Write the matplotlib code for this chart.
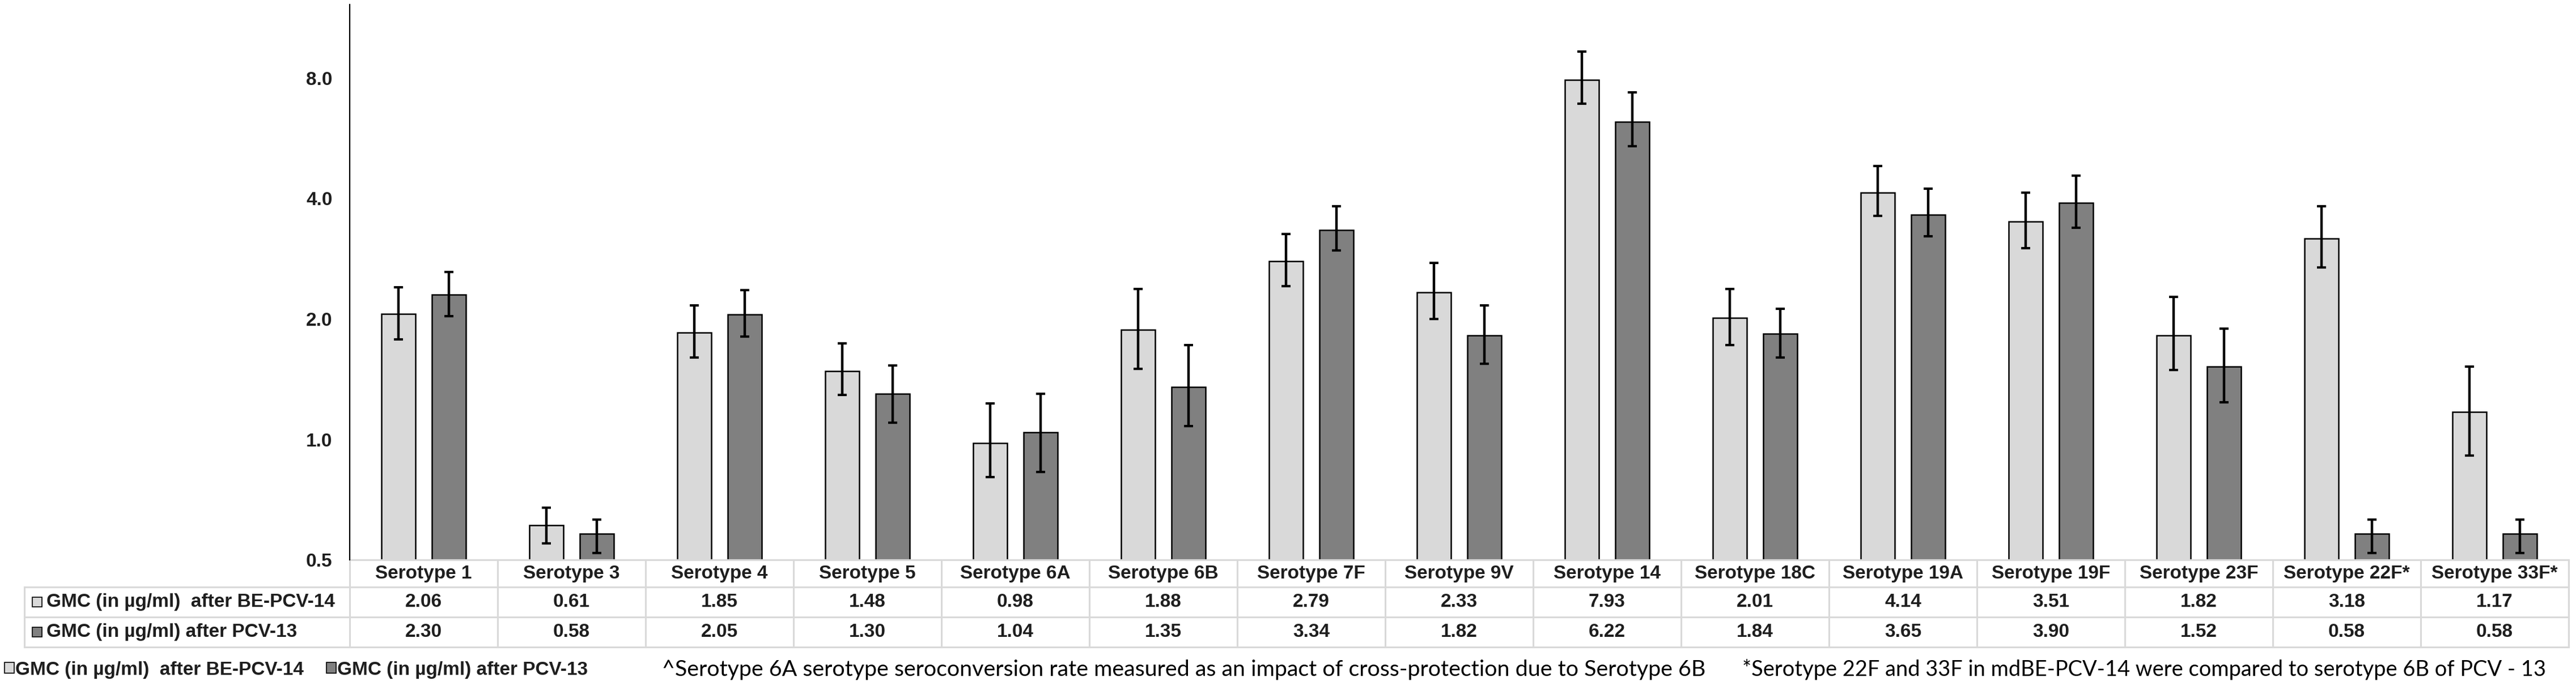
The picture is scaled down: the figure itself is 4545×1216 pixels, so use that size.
import matplotlib
matplotlib.use('Agg')

import numpy as np
import matplotlib.pyplot as plt
from matplotlib.patches import Patch, Rectangle
from matplotlib.ticker import FixedLocator, FuncFormatter

# =========================
# Data (GMC in ug/ml with 95% CI)
# =========================
categories = ['Serotype 1', 'Serotype 3', 'Serotype 4', 'Serotype 5', 'Serotype 6A',
              'Serotype 6B', 'Serotype 7F', 'Serotype 9V', 'Serotype 14', 'Serotype 18C',
              'Serotype 19A', 'Serotype 19F', 'Serotype 23F', 'Serotype 22F*', 'Serotype 33F*']

be_pcv14 = [2.06, 0.61, 1.85, 1.48, 0.98, 1.88, 2.79, 2.33, 7.93, 2.01, 4.14, 3.51, 1.82, 3.18, 1.17]
be_low = [1.78, 0.55, 1.60, 1.29, 0.805, 1.50, 2.42, 2.00, 6.91, 1.72, 3.62, 3.01, 1.49, 2.69, 0.91]
be_high = [2.40, 0.675, 2.16, 1.74, 1.23, 2.38, 3.26, 2.76, 9.34, 2.38, 4.83, 4.14, 2.27, 3.83, 1.52]

pcv13 = [2.30, 0.58, 2.05, 1.30, 1.04, 1.35, 3.34, 1.82, 6.22, 1.84, 3.65, 3.90, 1.52, 0.58, 0.58]
pcv_low = [2.03, 0.52, 1.81, 1.10, 0.83, 1.08, 2.97, 1.545, 5.41, 1.60, 3.22, 3.38, 1.24, 0.52, 0.52]
pcv_high = [2.62, 0.63, 2.36, 1.53, 1.30, 1.72, 3.83, 2.16, 7.37, 2.12, 4.23, 4.56, 1.89, 0.63, 0.63]

series_labels = ['GMC (in \u00b5g/ml)  after BE-PCV-14', 'GMC (in \u00b5g/ml) after PCV-13']
y_ticks = [0.5, 1.0, 2.0, 4.0, 8.0]

note_6a = ('^Serotype 6A serotype seroconversion rate measured as an impact of '
           'cross-protection due to Serotype 6B')
note_22f = '*Serotype 22F and 33F in mdBE-PCV-14 were compared to serotype 6B of PCV - 13'

# =========================
# Style
# =========================
LIGHT = '#D9D9D9'
DARK = '#808080'
GRID = '#D9D9D9'
TXT = '#1e1e1e'
FONT = 'Liberation Sans'
FS = 24

W, H = 4545, 1216
fig = plt.figure(figsize=(W / 100, H / 100), dpi=100)

# axes box in pixels: x 617..4532, y 8..988
ax = fig.add_axes([617 / W, 1 - 988 / H, 3915 / W, 980 / H])

x = np.arange(len(categories))
bw = 0.23
off = 0.172

be = np.array(be_pcv14)
pc = np.array(pcv13)
be_err = [be - np.array(be_low), np.array(be_high) - be]
pc_err = [pc - np.array(pcv_low), np.array(pcv_high) - pc]

err_kw = dict(ecolor='black', elinewidth=3.2, capsize=5.8, capthick=3.0)
ax.bar(x - off, be, bw, color=LIGHT, edgecolor='black', linewidth=1.8,
       yerr=be_err, error_kw=err_kw, label=series_labels[0])
ax.bar(x + off, pc, bw, color=DARK, edgecolor='black', linewidth=1.8,
       yerr=pc_err, error_kw=err_kw, label=series_labels[1])

ax.set_yscale('log', base=2)
ax.set_ylim(0.5, 0.5 * 2 ** (980 / 212.5))
ax.set_xlim(-0.5, len(categories) - 0.5)
ax.yaxis.set_major_locator(FixedLocator(y_ticks))
ax.yaxis.set_minor_locator(FixedLocator([]))
ax.yaxis.set_major_formatter(FuncFormatter(lambda v, p: f'{v:.1f}'))
ax.tick_params(axis='y', length=0, pad=22, labelsize=FS, labelcolor=TXT)
ax.set_xticks([])
for lab in ax.get_yticklabels():
    lab.set_fontfamily(FONT)
    lab.set_fontweight('bold')

for s in ['top', 'right', 'bottom']:
    ax.spines[s].set_visible(False)
ax.spines['left'].set_linewidth(1.6)
ax.spines['left'].set_color('black')

# =========================
# Data table under the axis (x in data units, y in axes units)
# =========================
tr = ax.get_xaxis_transform()
col_px = 261.0
x_left = -0.5 - (617 - 43) / col_px          # left border of the row-label column
x_right = len(categories) - 0.5
y_rows = [0, -48 / 980, -101 / 980, -154 / 980]  # header top, header bottom, row1 bottom, row2 bottom

line_kw = dict(color=GRID, linewidth=2.2, transform=tr, clip_on=False)
ax.plot([-0.5, x_right], [y_rows[0]] * 2, **line_kw)
for yy in y_rows[1:]:
    ax.plot([x_left, x_right], [yy, yy], **line_kw)
for k in range(len(categories) + 1):
    ax.plot([k - 0.5, k - 0.5], [y_rows[0], y_rows[3]], **line_kw)
ax.plot([x_left, x_left], [y_rows[1], y_rows[3]], **line_kw)

txt_kw = dict(transform=tr, clip_on=False, fontsize=FS, fontweight='bold',
              family=FONT, color=TXT, va='center')
for j, cat in enumerate(categories):
    ax.text(j, (y_rows[0] + y_rows[1]) / 2, cat, ha='center', **txt_kw)

rows = [be_pcv14, pcv13]
swatch = [LIGHT, DARK]
for i, vals in enumerate(rows):
    yc = (y_rows[i + 1] + y_rows[i + 2]) / 2
    ax.text(x_left + (82 - 43) / col_px, yc, series_labels[i], ha='left', **txt_kw)
    for j, v in enumerate(vals):
        ax.text(j, yc, f'{v:.2f}', ha='center', **txt_kw)
    # colour key in front of the row label
    ax.add_patch(Rectangle((x_left + (57 - 43) / col_px, yc - 8.5 / 980), 17 / col_px, 17 / 980,
                           transform=tr, clip_on=False, facecolor=swatch[i],
                           edgecolor='black', linewidth=1.2))

# =========================
# Legend and footnotes
# =========================
handles = [Patch(facecolor=LIGHT, edgecolor='black', linewidth=1.2),
           Patch(facecolor=DARK, edgecolor='black', linewidth=1.2)]
fig.legend(handles, series_labels, loc='center left',
           bbox_to_anchor=(8 / W, 1 - 1182 / H), ncol=2, frameon=False,
           borderaxespad=0, borderpad=0, handlelength=0.5, handleheight=0.5,
           handletextpad=0.08, columnspacing=1.2, labelcolor=TXT,
           prop=dict(family=FONT, weight='bold', size=FS))

notes = [(note_6a, 1168, 3010), (note_22f, 3074, 4488)]
renderer = fig.canvas.get_renderer()
for txt, x0, x1 in notes:
    t = fig.text(x0 / W, 1 - 1182 / H, txt, ha='left', va='center',
                 fontsize=26, family='Lato', color='black')
    # Calibri is not available: size Lato so the line spans the same width
    w = t.get_window_extent(renderer).width
    t.set_fontsize(26 * (x1 - x0) / w)

fig.savefig('out.png', dpi=100, facecolor='white')
